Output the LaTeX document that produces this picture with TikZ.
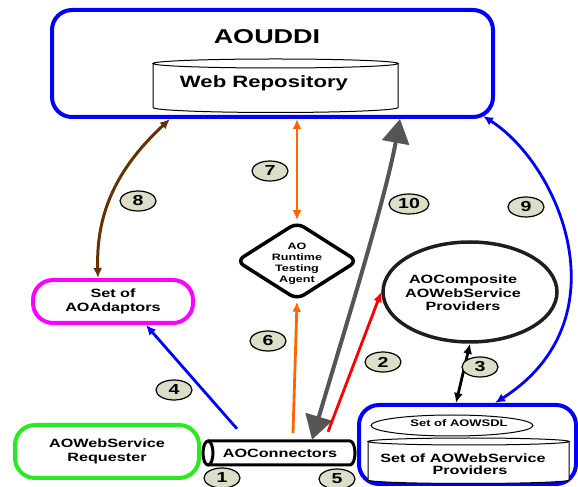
\documentclass[tikz,border=0pt]{standalone}
\usepackage{fontspec}
\setmainfont{Liberation Sans}[FakeStretch=1.35]
\usetikzlibrary{shapes.geometric,arrows.meta}

\definecolor{numfill}{RGB}{220,222,200}
\definecolor{brownc}{RGB}{102,51,0}
\definecolor{orangec}{RGB}{255,102,0}
\definecolor{greyc}{RGB}{85,85,85}
\definecolor{greenc}{RGB}{40,235,30}
\definecolor{magc}{RGB}{255,0,255}
\definecolor{bluec}{RGB}{0,0,255}
\definecolor{redc}{RGB}{255,0,0}
\definecolor{darkline}{RGB}{30,30,30}

\begin{document}
\begin{tikzpicture}[x=1pt,y=1pt,
  box/.style={draw, rounded corners=20pt, line width=4pt, align=center, inner sep=0pt},
  txt/.style={font=\fontsize{12}{13.5}\selectfont\bfseries, align=center},
  lbl/.style={ellipse, draw=black, line width=1.2pt, fill=numfill, minimum width=36pt,
              minimum height=20pt, inner sep=0pt, font=\fontsize{14.5}{15}\selectfont\bfseries},
  tipS/.tip={Latex[length=10pt,width=9pt]},
  tipB/.tip={Triangle[length=24pt,width=27pt]},
  link/.style={line width=2.8pt}
]
\useasboundingbox (0,0) rectangle (578,487);

% ---------- AOUDDI with its web repository ----------
\node[box, draw=bluec, minimum width=441pt, minimum height=107pt] (uddi) at (272.5,423.5) {};
\node[font=\fontsize{20}{22}\selectfont\bfseries] (uddiname) at (267,450) {AOUDDI};
\filldraw[fill=white, line width=1pt] (153,423.5) -- (153,379.5)
  arc[start angle=180, end angle=360, x radius=122.5pt, y radius=5pt] -- (398,423.5);
\draw[line width=1pt] (275.5,423.5) ellipse[x radius=122.5pt, y radius=4.5pt];
\node[font=\fontsize{16.4}{18}\selectfont\bfseries] (repo) at (264,404) {Web Repository};

% ---------- left side ----------
\node[box, draw=magc, minimum width=160pt, minimum height=43pt, txt] (adapt) at (113,185.5) {Set of\\AOAdaptors};
\node[box, draw=greenc, minimum width=184pt, minimum height=53pt, txt] (req) at (107,35.5) {AOWebService\\Requester};

% ---------- connectors pipe ----------
\filldraw[fill=white, line width=3pt] (208,46) -- (350,46)
  arc[start angle=90, end angle=-90, x radius=5pt, y radius=12pt] -- (208,22);
\draw[line width=3pt] (208,34) ellipse[x radius=5pt, y radius=12pt];
\node[minimum width=152pt, minimum height=24pt, inner sep=0pt, txt] (conn) at (279,34) {\hspace*{2pt}AOConnectors};

% ---------- runtime testing agent ----------
\node[diamond, draw, line width=3.5pt, rounded corners=8pt, minimum width=122pt,
      minimum height=78pt, inner sep=0pt, fill=white] (agent) at (297,226) {};
\node[font=\fontsize{9.3}{11}\selectfont\bfseries, align=center] (agenttxt) at (297,223.5) {AO\\Runtime\\Testing\\Agent};

% ---------- composite providers ----------
\node[ellipse, draw=darkline, line width=3.5pt, minimum width=174pt, minimum height=100pt, inner sep=0pt] (comp) at (470,195) {};
\node[txt] (comptxt) at (463,194) {AOComposite\\AOWebService\\Providers};

% ---------- web service providers ----------
\node[box, draw=bluec, minimum width=217pt, minimum height=79pt] (prov) at (467.5,42.5) {};
\node[ellipse, draw, line width=1pt, minimum width=162pt, minimum height=21pt, inner sep=0pt] (wsdl) at (452,61.5) {};
\node[font=\fontsize{9.6}{11}\selectfont\bfseries] (wsdltxt) at (459,64) {Set of AOWSDL};
\filldraw[fill=white, line width=1pt] (368,45.5) -- (368,7)
  arc[start angle=180, end angle=360, x radius=100.5pt, y radius=3.5pt] -- (569,45.5);
\draw[line width=1pt] (468.5,45.5) ellipse[x radius=100.5pt, y radius=3.5pt];
\node[txt, font=\fontsize{12}{12.5}\selectfont\bfseries] (provtxt) at (463,23) {Set of AOWebService\\\hspace*{14pt}Providers};

% ---------- connectors ----------
% 8: AOUDDI <-> adaptors
\draw[brownc, line width=3pt, tipS-tipS] ([xshift=-102.5pt]uddi.south)
  .. controls +(-55,-51) and +(-2,63) .. ([xshift=-15pt]adapt.north);
% 7: AOUDDI <-> agent
\draw[orangec, link, tipS-tipS] (uddi.south -| agent.north) -- (agent.north);
% 6: connectors -> agent
\draw[orangec, link, -tipS] ([xshift=14pt,yshift=8pt]conn.north) -- (agent.south);
% 10: connectors <-> AOUDDI
\draw[greyc, line width=4pt, tipB-tipB] ([xshift=33pt,yshift=1pt]conn.north)
  .. controls +(33,111) and +(-15,-81) .. ([xshift=127.5pt]uddi.south);
% 9: AOUDDI <-> providers
\draw[bluec, link, tipS-tipS] ([shift={(210.5pt,3pt)}]uddi.south)
  .. controls +(77,-49) and +(130,83) .. ([xshift=27.5pt]prov.north);
% 2: connectors -> composite
\draw[redc, link, -tipS] ([xshift=49pt,yshift=9pt]conn.north) -- (comp.west);
% 3: composite <-> providers
\draw[black, link, tipS-tipS] (comp.south) -- ([xshift=-11.5pt]prov.north);
% 4: connectors -> adaptors
\draw[bluec, link, -tipS] ([xshift=-42pt,yshift=12pt]conn.north) -- ([xshift=33pt]adapt.south);

% ---------- step numbers ----------
\node[lbl] (n1) at (222,9) {1};
\node[lbl] (n2) at (383,125) {2};
\node[lbl] (n3) at (480,120) {3};
\node[lbl] (n4) at (174,97) {4};
\node[lbl] (n5) at (337,8) {5};
\node[lbl] (n6) at (268,146) {6};
\node[lbl] (n7) at (270,316) {7};
\node[lbl] (n8) at (138,286) {8};
\node[lbl] (n9) at (526,280) {9};
\node[lbl, minimum width=40pt] (n10) at (409,283) {10};
\end{tikzpicture}
\end{document}
